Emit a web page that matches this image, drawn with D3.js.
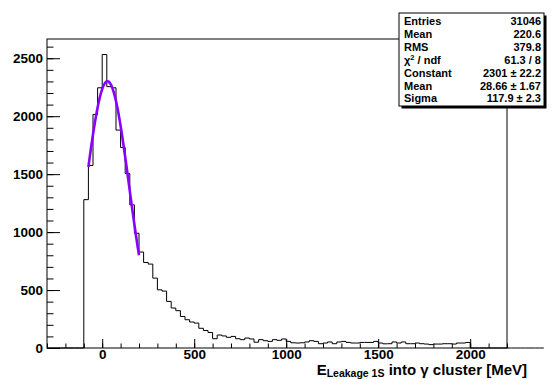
<!DOCTYPE html>
<html>
<head>
<meta charset="utf-8">
<script src="https://cdn.jsdelivr.net/npm/d3@7"></script>
<style>
  html, body { margin: 0; padding: 0; background: #fff; }
  svg { display: block; }
  text { font-family: "Liberation Sans", Arial, Helvetica, sans-serif; font-weight: bold; fill: #000; }
</style>
</head>
<body>
<svg id="chart" width="552" height="379"></svg>
<script>
// Histogram binning: 100 bins of 25 MeV from -300 to 2200
const binLow = -300;
const binWidth = 25;
// Bin contents (bins below -100 MeV and above 2000 MeV are empty)
const counts = [
  0, 0, 0, 0, 0, 0, 0, 0,
  1280, 1575, 2015, 2245, 2532, 2255, 2245, 1880, 1730, 1505,
  1235, 990, 828, 738, 724, 603, 502, 491, 402, 345,
  322, 272, 244, 224, 215, 170, 151, 134, 80, 112,
  104, 92, 100, 80, 72, 86, 78, 50, 72, 63,
  57, 72, 66, 78, 57, 45, 43, 45, 52, 63,
  57, 37, 43, 52, 37, 52, 57, 48, 43, 43,
  48, 48, 48, 57, 43, 36, 37, 52, 43, 52,
  37, 37, 43, 37, 34, 29, 34, 34, 37, 37,
  34, 43, 43, 48,
  0, 0, 0, 0, 0, 0, 0, 0, 0, 0, 0, 0, 0, 0, 0, 0
];
// Gaussian fit result and its range
const fitConstant = 2301;
const fitMean = 28.66;
const fitSigma = 117.9;
const fitRange = [-75, 200];
// Axis ticks
const xMajorTicks = [0, 500, 1000, 1500, 2000];
const xMinorTicks = d3.range(-300, 2201, 100);
const yMajorTicks = [0, 500, 1000, 1500, 2000, 2500];
const yMinorTicks = d3.range(0, 2666, 100);
// Statistics box rows
const statLabels = ["Entries", "Mean", "RMS", "CHI2", "Constant", "Mean", "Sigma"];
const statValues = ["31046", "220.6", "379.8", "61.3 / 8", "2301 \u00b1 22.2", "28.66 \u00b1 1.67", "117.9 \u00b1 2.3"];

const svg = d3.select("#chart");
const frame = { left: 47, right: 507, top: 39, bottom: 348 };

const x = d3.scaleLinear().domain([-300, 2200]).range([frame.left, frame.right]);
const y = d3.scaleLinear().domain([0, 2666]).range([frame.bottom, frame.top]);

// Histogram outline as a step line
const bins = counts.map((c, i) => ({ x0: binLow + i * binWidth, x1: binLow + (i + 1) * binWidth, c }));
const stepPts = [];
bins.forEach(b => { stepPts.push([b.x0, b.c]); stepPts.push([b.x1, b.c]); });
const line = d3.line().x(d => x(d[0])).y(d => y(d[1]));
svg.append("path")
  .attr("d", line(stepPts))
  .attr("fill", "none")
  .attr("stroke", "#000")
  .attr("stroke-width", 1);

// Fitted Gaussian
const gauss = v => fitConstant * Math.exp(-0.5 * Math.pow((v - fitMean) / fitSigma, 2));
const fitPts = d3.range(fitRange[0], fitRange[1] + 0.01, 2.5).map(v => [v, gauss(v)]);
svg.append("path")
  .attr("d", d3.line().curve(d3.curveMonotoneX).x(d => x(d[0])).y(d => y(d[1]))(fitPts))
  .attr("fill", "none")
  .attr("stroke", "#8a00ff")
  .attr("stroke-width", 2.6);

// Axes: major and minor ticks drawn inward
const fs = "13.5px";
const xAxisG = svg.append("g").attr("transform", `translate(0,${frame.bottom})`);
xAxisG.append("g")
  .call(d3.axisBottom(x).tickValues(xMinorTicks).tickSize(-4.5).tickFormat(""))
  .call(g => g.select(".domain").remove());
xAxisG.append("g")
  .call(d3.axisBottom(x).tickValues(xMajorTicks).tickSize(-9).tickPadding(1).tickFormat(d3.format("d")))
  .call(g => g.select(".domain").remove())
  .call(g => g.selectAll("text").style("font-size", fs).attr("font-family", null).attr("font-size", null));

const yAxisG = svg.append("g").attr("transform", `translate(${frame.left},0)`);
yAxisG.append("g")
  .call(d3.axisLeft(y).tickValues(yMinorTicks).tickSize(-6.5).tickFormat(""))
  .call(g => g.select(".domain").remove());
yAxisG.append("g")
  .call(d3.axisLeft(y).tickValues(yMajorTicks).tickSize(-13).tickPadding(4).tickFormat(d3.format("d")))
  .call(g => g.select(".domain").remove())
  .call(g => g.selectAll("text").style("font-size", fs).attr("font-family", null).attr("font-size", null));

svg.selectAll(".tick line").attr("stroke", "#000");

// Frame
svg.append("rect")
  .attr("x", frame.left).attr("y", frame.top)
  .attr("width", frame.right - frame.left).attr("height", frame.bottom - frame.top)
  .attr("fill", "none").attr("stroke", "#000").attr("stroke-width", 1);

// X axis title with subscript
const title = svg.append("text")
  .attr("x", 527).attr("y", 374.5)
  .attr("text-anchor", "end")
  .style("font-size", "15px");
title.append("tspan").text("E");
title.append("tspan").attr("dy", 2.5).style("font-size", "10.5px").text("Leakage 1S");
title.append("tspan").attr("dy", -2.5).text(" into \u03b3 cluster [MeV]");

// Statistics box with shadow
const box = { x: 399, y: 13, w: 145, h: 93 };
svg.append("rect")
  .attr("x", box.x + 2.5).attr("y", box.y + 2.5)
  .attr("width", box.w).attr("height", box.h)
  .attr("fill", "#000");
svg.append("rect")
  .attr("x", box.x).attr("y", box.y)
  .attr("width", box.w).attr("height", box.h)
  .attr("fill", "#fff").attr("stroke", "#000").attr("stroke-width", 1);

const rowH = 12.9;
statLabels.forEach((lab, i) => {
  const by = box.y + 12 + i * rowH;
  const t = svg.append("text").attr("x", box.x + 5).attr("y", by).style("font-size", "11px");
  if (lab === "CHI2") {
    t.append("tspan").text("\u03c7");
    t.append("tspan").attr("dy", -4).style("font-size", "7.5px").text("2");
    t.append("tspan").attr("dy", 4).text(" / ndf");
  } else {
    t.text(lab);
  }
  svg.append("text")
    .attr("x", box.x + box.w - 3).attr("y", by)
    .attr("text-anchor", "end")
    .style("font-size", "11px")
    .text(statValues[i]);
});
</script>
</body>
</html>
